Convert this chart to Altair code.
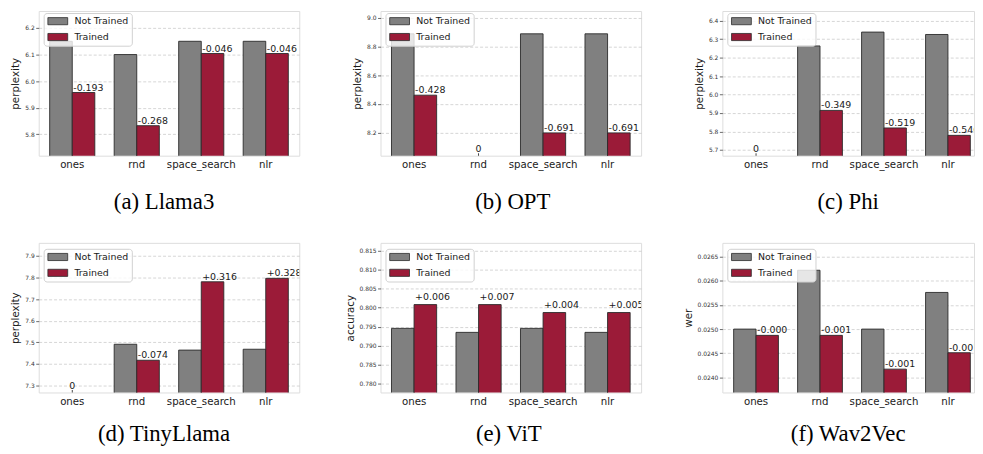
import altair as alt
import pandas as pd

categories = ["ones", "rnd", "space_search", "nlr"]
series = ["Not Trained", "Trained"]
colors = ["#808080", "#9b1b38"]

# (a) Llama3
llama3_not = [6.150, 6.100, 6.150, 6.150]
llama3_tr = [5.957, 5.832, 6.104, 6.104]
llama3_lab = ["-0.193", "-0.268", "-0.046", "-0.046"]
llama3_ticks = [5.8, 5.9, 6.0, 6.1, 6.2]
llama3_domain = [5.719, 6.264]

# (b) OPT
opt_not = [8.889, None, 8.889, 8.889]
opt_tr = [8.461, None, 8.198, 8.198]
opt_lab = ["-0.428", "0", "-0.691", "-0.691"]
opt_ticks = [8.2, 8.4, 8.6, 8.8, 9.0]
opt_domain = [8.039, 9.048]

# (c) Phi
phi_not = [None, 6.263, 6.338, 6.325]
phi_tr = [None, 5.914, 5.819, 5.779]
phi_lab = ["0", "-0.349", "-0.519", "-0.546"]
phi_ticks = [5.7, 5.8, 5.9, 6.0, 6.1, 6.2, 6.3, 6.4]
phi_domain = [5.669, 6.452]

# (d) TinyLlama
tiny_not = [None, 7.491, 7.464, 7.468]
tiny_tr = [None, 7.417, 7.780, 7.796]
tiny_lab = ["0", "-0.074", "+0.316", "+0.328"]
tiny_ticks = [7.3, 7.4, 7.5, 7.6, 7.7, 7.8, 7.9]
tiny_domain = [7.268, 7.960]

# (e) ViT
vit_not = [0.79455, 0.79350, 0.79455, 0.79350]
vit_tr = [0.80082, 0.80082, 0.79873, 0.79873]
vit_lab = ["+0.006", "+0.007", "+0.004", "+0.005"]
vit_ticks = [0.780, 0.785, 0.790, 0.795, 0.800, 0.805, 0.810, 0.815]
vit_domain = [0.77765, 0.8171]

# (f) Wav2Vec
wav_not = [0.02500, 0.02622, 0.02500, 0.02576]
wav_tr = [0.02487, 0.02487, 0.02417, 0.02451]
wav_lab = ["-0.000", "-0.001", "-0.001", "-0.001"]
wav_ticks = [0.0240, 0.0245, 0.0250, 0.0255, 0.0260, 0.0265]
wav_domain = [0.023686, 0.026788]

FONT = "DejaVu Sans"


def panel(caption, ytitle, nt, tr, labels, ticks, domain, fmt, width, height, leg_y,
          cap_offset, cap_dx, pad_outer=0.17, align=0.5, label_dy=-2):
    bar_rows, lab_rows, zero_rows = [], [], []
    for c, a, b, l in zip(categories, nt, tr, labels):
        if a is not None:
            bar_rows.append({"cat": c, "series": series[0], "value": a})
        if b is not None:
            bar_rows.append({"cat": c, "series": series[1], "value": b})
            lab_rows.append({"cat": c, "value": b, "label": l})
        else:
            zero_rows.append({"cat": c, "label": l})

    xscale = alt.Scale(domain=categories, paddingInner=0.3, paddingOuter=pad_outer, align=align)
    xenc = alt.X(
        "cat:N",
        sort=categories,
        scale=xscale,
        axis=alt.Axis(title=None, labelAngle=0, ticks=False, domain=False, grid=False,
                      labelFontSize=10.3, labelFont=FONT, labelColor="#1a1a1a", labelPadding=4),
    )
    yscale = alt.Scale(domain=domain, zero=False, nice=False)
    yaxis = alt.Axis(title=ytitle, values=ticks, format=fmt, labelFontSize=6, labelFont=FONT,
                     labelColor="#333", labelPadding=1.5, labelOverlap=False, labelFlush=False,
                     tickSize=3, tickColor="#444", tickWidth=0.8,
                     domain=False, grid=True, gridDash=[3, 2], gridColor="#c4c4c4", gridWidth=0.7,
                     titleFontSize=10.4, titleFont=FONT, titleFontWeight="normal", titleColor="#1a1a1a",
                     titlePadding=4)
    yenc = alt.Y("value:Q", scale=yscale, axis=yaxis)
    ybottom = alt.Y(datum=domain[0], type="quantitative", scale=yscale, axis=yaxis)

    bars = alt.Chart(pd.DataFrame(bar_rows)).mark_bar(stroke="#2b2b2b", strokeWidth=0.9, clip=True).encode(
        x=xenc,
        xOffset=alt.XOffset("series:N", sort=series,
                            scale=alt.Scale(domain=series, paddingInner=0, paddingOuter=0)),
        y=yenc,
        color=alt.Color(
            "series:N",
            scale=alt.Scale(domain=series, range=colors),
            legend=alt.Legend(
                title=None, orient="none", legendX=5, legendY=leg_y, direction="vertical",
                fillColor="rgba(255,255,255,0.8)", strokeColor="#d0d0d0", cornerRadius=3, padding=3.5,
                symbolType="M-1,-0.9H4V0.9H-1Z", symbolSize=64, symbolStrokeColor="#2b2b2b",
                symbolStrokeWidth=0.8, symbolOpacity=1, labelFontSize=9.5, labelFont=FONT,
                labelColor="#1a1a1a", labelOffset=18, rowPadding=5, labelLimit=200,
            ),
        ),
    )
    layers = [bars]
    if lab_rows:
        layers.append(
            alt.Chart(pd.DataFrame(lab_rows)).mark_text(
                align="left", baseline="alphabetic", dx=1, dy=label_dy, fontSize=9.5, font=FONT,
                color="#1a1a1a", clip=True
            ).encode(x=xenc, y=yenc, text="label:N")
        )
    if zero_rows:
        zdf = pd.DataFrame(zero_rows)
        layers.append(
            alt.Chart(zdf).mark_text(
                align="center", baseline="alphabetic", dy=-4, fontSize=9.5, font=FONT, color="#1a1a1a"
            ).encode(x=xenc, y=ybottom, text="label:N")
        )
        layers.append(
            alt.Chart(zdf).mark_tick(orient="vertical", size=5, thickness=0.9, color="#333",
                                     opacity=1, clip=True).encode(x=xenc, y=ybottom)
        )
    return alt.layer(*layers).properties(
        width=width,
        height=height,
        title=alt.TitleParams(caption, orient="bottom", anchor="middle", frame="group",
                              font="Liberation Serif", fontSize=23, fontWeight="normal",
                              color="black", offset=cap_offset, dx=cap_dx, baseline="alphabetic"),
    )


R3 = dict(pad_outer=0.117, align=0.755)
pa = panel("(a) Llama3", "perplexity", llama3_not, llama3_tr, llama3_lab, llama3_ticks, llama3_domain, ".1f", 263, 146, 2, 40, -5)
pb = panel("(b) OPT", "perplexity", opt_not, opt_tr, opt_lab, opt_ticks, opt_domain, ".1f", 263, 146, 2, 40, 2)
pc = panel("(c) Phi", "perplexity", phi_not, phi_tr, phi_lab, phi_ticks, phi_domain, ".1f", 254, 146, 2, 40, 0, **R3)
pd_ = panel("(d) TinyLlama", "perplexity", tiny_not, tiny_tr, tiny_lab, tiny_ticks, tiny_domain, ".1f", 263, 151, 6, 35, -5)
pe = panel("(e) ViT", "accuracy", vit_not, vit_tr, vit_lab, vit_ticks, vit_domain, ".3f", 263, 151, 6, 35, -2, label_dy=-5)
pf = panel("(f) Wav2Vec", "wer", wav_not, wav_tr, wav_lab, wav_ticks, wav_domain, ".4f", 254, 151, 6, 35, 0, **R3)

res = dict(x="independent", y="independent", color="independent", xOffset="independent")

chart = alt.concat(pa, pb, pc, pd_, pe, pf, columns=3, spacing={"row": 88, "column": 82}).resolve_scale(
    **res
).properties(
    bounds="flush",
    padding={"left": 2, "top": 0, "right": 0, "bottom": 0},
).configure_view(
    fill="#f2f3f5", stroke="#7a7a7a", strokeWidth=1
).configure(background="white")

chart.save("out.html", embed_options={"renderer": "svg", "actions": False})
